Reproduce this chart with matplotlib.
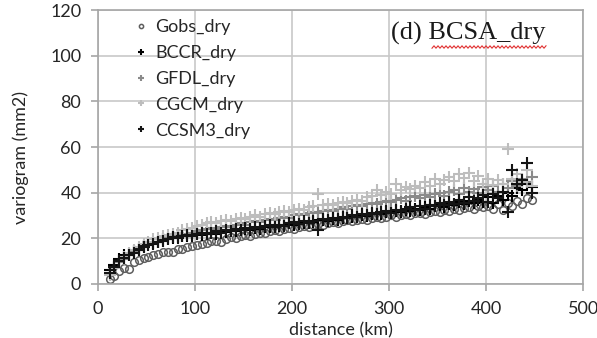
"""Variogram (d) BCSA_dry - observado vs modelos (dry)."""
import matplotlib

matplotlib.use("Agg")
import matplotlib.pyplot as plt
import numpy as np
from matplotlib.lines import Line2D

distance = [12, 17, 22, 27, 32, 37, 42, 47, 52, 57, 62, 67, 72, 77, 82, 87, 92, 97,
            102, 107, 112, 117, 122, 127, 132, 137, 142, 147, 152, 157, 162, 167, 172,
            177, 182, 187, 192, 197, 202, 207, 212, 217, 222, 227, 232, 237, 242, 247,
            252, 257, 262, 267, 272, 277, 282, 287, 292, 297, 302, 307, 312, 317, 322,
            327, 332, 337, 342, 347, 352, 357, 362, 367, 372, 377, 382, 387, 392, 397,
            402, 407, 412, 417, 422, 427, 432, 437, 442, 447]

gobs_dry = [2.0, 3.5, 5.5, 7.0, 6.5, 9.5, 10.5, 11.5, 12.0, 12.5, 13.0, 13.8, 14.2, 14.0,
            15.2, 15.5, 16.0, 16.8, 17.2, 17.5, 18.0, 18.8, 19.0, 18.5, 19.8, 20.5, 20.2,
            21.0, 21.5, 21.2, 22.0, 22.5, 22.3, 23.0, 23.5, 23.2, 24.0, 24.5, 24.2, 25.0,
            25.3, 25.0, 25.8, 26.2, 26.0, 26.8, 27.0, 26.5, 27.5, 27.8, 27.5, 28.2, 28.5,
            28.0, 28.8, 29.2, 29.0, 29.5, 30.0, 29.5, 30.3, 30.5, 30.0, 31.0, 31.2, 30.8,
            31.5, 32.0, 31.5, 32.3, 32.0, 33.0, 32.5, 33.2, 33.5, 32.8, 34.0, 33.5, 34.2,
            33.0, 35.0, 32.5, 35.5, 34.0, 36.5, 35.0, 37.5, 37.0]

bccr_dry = [6.0, 8.5, 11.0, 12.5, 13.0, 14.5, 15.5, 16.5, 17.5, 18.0, 18.5, 19.5, 19.8, 20.0,
            20.5, 21.0, 20.8, 21.5, 21.8, 21.5, 22.0, 22.5, 22.0, 23.0, 22.8, 23.5, 23.2,
            23.8, 24.0, 23.5, 24.5, 24.2, 25.0, 24.8, 25.5, 25.2, 26.0, 26.5, 26.0, 27.0,
            26.5, 27.3, 27.0, 27.8, 28.0, 27.5, 28.5, 28.2, 29.0, 28.8, 29.5, 29.2, 30.0,
            29.8, 30.5, 31.0, 30.5, 31.5, 31.2, 32.0, 31.5, 32.5, 32.0, 33.0, 32.5, 33.5,
            33.0, 34.0, 34.5, 33.5, 35.0, 34.5, 36.0, 35.0, 36.5, 35.5, 37.0, 36.0, 38.0,
            35.5, 38.5, 37.0, 40.0, 38.5, 42.0, 41.0, 44.0, 42.5]

gfdl_dry = [4.5, 7.0, 9.5, 11.0, 12.5, 14.0, 15.0, 16.0, 17.0, 18.0, 18.5, 19.0, 20.0, 20.5,
            21.0, 21.5, 22.0, 22.5, 23.0, 23.5, 24.0, 24.5, 24.0, 25.0, 25.5, 25.0, 26.0,
            26.5, 26.0, 27.0, 27.5, 27.0, 28.0, 28.5, 28.0, 29.0, 29.5, 29.0, 30.0, 30.5,
            30.0, 31.0, 31.5, 31.0, 32.0, 32.5, 32.0, 33.0, 33.5, 33.0, 34.0, 34.5, 34.0,
            35.0, 35.5, 35.0, 36.0, 36.5, 36.0, 37.0, 37.5, 36.5, 38.0, 38.5, 37.5, 39.0,
            38.0, 39.5, 40.0, 38.5, 40.5, 41.0, 39.5, 42.0, 40.5, 41.5, 40.0, 42.5, 41.0,
            43.0, 40.5, 44.0, 42.0, 45.0, 43.0, 46.0, 44.5, 47.0]

cgcm_dry = [4.0, 7.0, 10.0, 12.0, 13.5, 15.0, 16.0, 17.5, 18.5, 19.5, 20.0, 21.0, 21.5, 22.0,
            22.5, 23.5, 24.0, 24.5, 25.5, 26.0, 26.5, 27.0, 26.5, 27.5, 28.0, 27.5, 28.5,
            29.0, 28.5, 29.5, 30.0, 29.5, 30.5, 31.0, 30.5, 31.5, 32.0, 31.5, 32.5, 33.0,
            32.5, 33.5, 34.0, 39.5, 34.5, 35.0, 34.5, 35.5, 36.0, 35.5, 36.5, 37.0, 36.5,
            38.0, 38.5, 41.0, 39.0, 40.5, 39.5, 44.0, 41.0, 42.5, 41.5, 43.0, 42.0, 44.5,
            43.0, 46.0, 44.0, 45.5, 47.0, 45.0, 48.0, 46.5, 48.5, 45.0, 47.5, 44.0, 46.0,
            43.5, 45.5, 44.0, 59.0, 46.0, 48.0, 44.5, 50.0, 43.0]

ccsm3_dry = [5.0, 7.5, 10.0, 11.5, 12.5, 13.5, 15.0, 16.0, 17.0, 17.5, 18.5, 18.8, 19.5, 20.5,
             20.0, 21.0, 21.5, 21.0, 22.0, 22.3, 21.8, 22.5, 23.0, 22.5, 23.5, 23.0, 24.0,
             23.5, 24.5, 24.0, 25.0, 24.5, 25.2, 25.8, 25.0, 26.0, 25.5, 26.5, 27.0, 26.2,
             27.5, 26.8, 27.5, 23.8, 28.5, 28.0, 29.0, 28.5, 29.5, 29.0, 30.0, 29.5, 30.5,
             30.0, 31.0, 30.5, 31.5, 32.0, 31.0, 32.5, 32.0, 33.0, 33.5, 32.5, 34.0, 33.0,
             34.5, 34.0, 35.5, 34.5, 36.0, 35.0, 37.0, 35.5, 38.0, 36.5, 37.5, 39.0, 36.0,
             39.5, 37.5, 40.5, 31.5, 50.0, 44.0, 45.5, 53.0, 40.0]

xticks = [0, 100, 200, 300, 400, 500]
yticks = [0, 20, 40, 60, 80, 100, 120]

UI_FONT = ["Lato", "DejaVu Sans"]
TXT_COLOR = "#262626"
FS = 13

fig = plt.figure(figsize=(5.97, 3.38), dpi=100)
ax = fig.add_axes([0.164, 0.160, 0.813, 0.810])

ax.plot(distance, gobs_dry, "o", ms=5.5, mfc="none", mec="#5e5e5e", mew=1.1, label="Gobs_dry")
ax.plot(distance, bccr_dry, "+", ms=8, color="#000000", mew=1.5, label="BCCR_dry")
ax.plot(distance, gfdl_dry, "+", ms=8, color="#8a8a8a", mew=1.5, label="GFDL_dry")
ax.plot(distance, cgcm_dry, "+", ms=8, color="#bdbdbd", mew=1.5, label="CGCM_dry")
ax.plot(distance, ccsm3_dry, "+", ms=8, color="#141414", mew=1.5, label="CCSM3_dry")

ax.set_xlim(0, 500)
ax.set_ylim(0, 120)
ax.set_xticks(xticks)
ax.set_yticks(yticks)
ax.grid(True, color="#c8c8c8", lw=1.2)
ax.set_axisbelow(True)
for sp in ax.spines.values():
    sp.set_color("#a6a6a6")
    sp.set_linewidth(1.2)
ax.tick_params(axis="both", direction="out", length=5, width=1.2, color="#a6a6a6",
               labelsize=FS, labelcolor=TXT_COLOR, pad=7)
for lab in ax.get_xticklabels() + ax.get_yticklabels():
    lab.set_family(UI_FONT)

ax.set_xlabel("distance (km)", family=UI_FONT, fontsize=FS, color=TXT_COLOR)
ax.set_ylabel("variogram (mm2)", family=UI_FONT, fontsize=FS, color=TXT_COLOR)
ax.xaxis.set_label_coords(0.5, -0.14)
ax.yaxis.set_label_coords(-0.142, 0.46)

leg = ax.legend(loc="upper left", bbox_to_anchor=(0.04, 1.027), frameon=False,
                markerscale=0.55, handlelength=0.8, handletextpad=0.4,
                labelspacing=0.55, prop={"family": UI_FONT, "size": FS})
for t in leg.get_texts():
    t.set_color(TXT_COLOR)

ax.text(0.603, 0.915, "(d) BCSA_dry", transform=ax.transAxes, family="Liberation Serif",
        fontsize=19, color="#1a1a1a", va="center", ha="left")

# red spell-check squiggle under "BCSA_dry"
sq_x = np.arange(432, 548, 2.0)
sq_y = 338 - 47 + 1.2 * ((np.arange(len(sq_x)) % 2) * 2 - 1)
fig.add_artist(Line2D(sq_x / 597, sq_y / 338, color="#e03030", lw=0.8,
                      transform=fig.transFigure))

fig.savefig("out.png", dpi=100)
plt.close(fig)
